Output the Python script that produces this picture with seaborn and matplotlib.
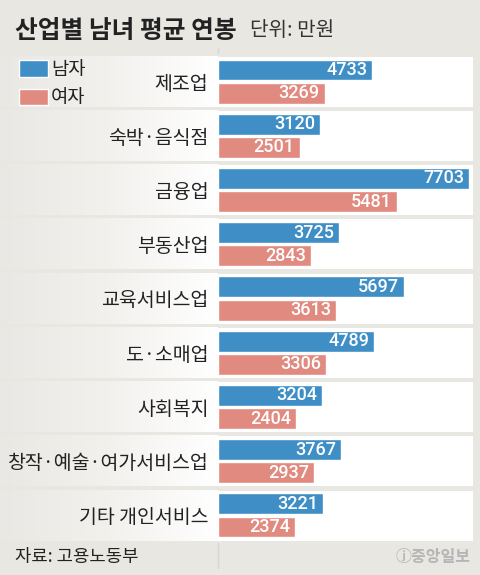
import numpy as np
import pandas as pd
import matplotlib
matplotlib.use("Agg")
import matplotlib.pyplot as plt
from matplotlib.lines import Line2D
import seaborn as sns

# 데이터 (단위: 만원)
industries = ["제조업", "숙박·음식점", "금융업", "부동산업", "교육서비스업",
              "도·소매업", "사회복지", "창작·예술·여가서비스업", "기타 개인서비스"]
male = [4733, 3120, 7703, 3725, 5697, 4789, 3204, 3767, 3221]
female = [3269, 2501, 5481, 2843, 3613, 3306, 2404, 2937, 2374]

BG = "#e8e7e2"
BLUE = "#3f8fc6"
PINK = "#e08a80"
INK = "#222222"

sns.set_theme(style="white")
plt.rcParams["font.family"] = ["Noto Sans CJK KR", "DejaVu Sans"]

df = pd.DataFrame({
    "산업": industries * 2,
    "연봉": male + female,
    "성별": ["남자"] * len(industries) + ["여자"] * len(industries),
})

fig = plt.figure(figsize=(4.8, 5.75), dpi=100)
fig.patch.set_facecolor(BG)

y0 = (575 - 542.6) / 575
h = 488.2 / 575

# 왼쪽 라벨 영역 (그라데이션 띠)
ax_lab = fig.add_axes([0, y0, 218 / 480, h])
ax_lab.set_xlim(0, 1)
ax_lab.set_ylim(8.5, -0.5)
ax_lab.axis("off")
grad = np.linspace(0, 1, 256).reshape(1, -1)
cmap = matplotlib.colors.LinearSegmentedColormap.from_list("g", ["#e9e8e4", "#f2f1ee", "#ffffff"])
for i in range(len(industries)):
    ax_lab.imshow(grad, cmap=cmap, aspect="auto",
                  extent=(0, 1, i + 0.465, i - 0.46), zorder=0)

# 막대 영역
ax = fig.add_axes([218 / 480, y0, 255 / 480, h])
ax.set_facecolor(BG)
for i in range(len(industries)):
    ax.axhspan(i - 0.46, i + 0.465, color="white", lw=0, zorder=0)

sns.barplot(data=df, y="산업", x="연봉", hue="성별", order=industries,
            palette={"남자": BLUE, "여자": PINK}, orient="h",
            width=0.85, gap=0.09, saturation=1, ax=ax, zorder=2)

ax.set_xlim(0, 7825)
ax.set_ylim(8.5, -0.5)
ax.set_xlabel("")
ax.set_ylabel("")
ax.set_xticks([])
for s in ax.spines.values():
    s.set_visible(False)
ax.tick_params(axis="y", length=0, pad=7, labelsize=14, labelcolor=INK)

for cont in ax.containers:
    for bar in cont:
        v = bar.get_width()
        ax.annotate(f"{v:.0f}", xy=(v, bar.get_y() + bar.get_height() / 2),
                    xytext=(-3.5, 0), textcoords="offset points",
                    ha="right", va="center", color="white",
                    fontsize=13, fontfamily="Roboto", fontweight="medium", zorder=3)

sns.move_legend(ax, "upper left", bbox_to_anchor=(19 / 480, 1 - 59 / 575),
                bbox_transform=fig.transFigure, title=None, frameon=False,
                fontsize=13.5, handlelength=1.55, handleheight=0.95,
                handletextpad=0.15, labelspacing=0.4, borderpad=0, borderaxespad=0)
for t in ax.get_legend().get_texts():
    t.set_color(INK)

# 구분선
fig.add_artist(Line2D([217.5 / 480, 217.5 / 480], [1 - 48 / 575, 1 - 568 / 575],
                      transform=fig.transFigure, color="#d9d7d2", lw=1, zorder=0))

# 제목
fig.text(15 / 480, 1 - 31 / 575, "산업별 남녀 평균 연봉", fontsize=17.8,
         fontweight="bold", color=INK, va="center", ha="left")
fig.text(250 / 480, 1 - 31 / 575, "단위: 만원", fontsize=14.5,
         color="#333333", va="center", ha="left")

# 출처
fig.text(15 / 480, 1 - 557 / 575, "자료: 고용노동부", fontsize=12.8,
         color=INK, va="center", ha="left")
fig.text(471 / 480, 1 - 557 / 575, "ⓙ중앙일보", fontsize=11.5, fontweight="bold",
         color="#b5b5b5", va="center", ha="right")

fig.savefig("out.png", dpi=100, facecolor=BG)
